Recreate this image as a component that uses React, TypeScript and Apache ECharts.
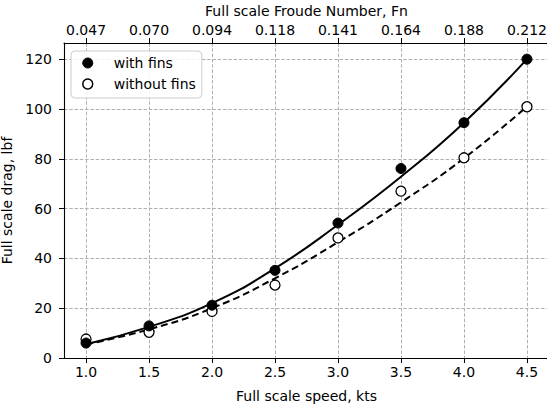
import React, { useEffect, useRef } from "react";
import * as echarts from "echarts";

const speeds = [1.0, 1.5, 2.0, 2.5, 3.0, 3.5, 4.0, 4.5];
const speedTickLabels = ["1.0", "1.5", "2.0", "2.5", "3.0", "3.5", "4.0", "4.5"];
const froudeLabels = ["0.047", "0.070", "0.094", "0.118", "0.141", "0.164", "0.188", "0.212"];
const dragWithFins = [6.0, 12.9, 21.2, 35.2, 54.2, 76.1, 94.5, 120];
const dragWithoutFins = [7.6, 10.3, 18.7, 29.3, 48.2, 67, 80.4, 100.9];
const fitWithFins = [5.5, 12.5, 22, 36, 53.5, 72.8, 94.5, 120];
const fitWithoutFins = [5.5, 11.5, 20, 32, 46.5, 62.5, 80.2, 101];
const dragTicks = [0, 20, 40, 60, 80, 100, 120];

const FONT = "DejaVu Sans";
const FS = 14;

export default function App() {
  const ref = useRef<HTMLDivElement>(null);
  useEffect(() => {
    if (!ref.current) return;
    const chart = echarts.init(ref.current, null, { renderer: "svg" });
    const pairs = (ys: number[]) => speeds.map((x, i) => [x, ys[i]]);
    const gridLine = { show: true, lineStyle: { color: "#b0b0b0", width: 1, type: [3.5, 1.8] } };
    const axisLineStyle = { show: true, lineStyle: { color: "#000", width: 1.1 } };
    const tick = { show: true, inside: false, length: 5, lineStyle: { color: "#000", width: 1 }, customValues: speeds };
    chart.setOption({
      animation: false,
      backgroundColor: "#fff",
      textStyle: { fontFamily: FONT },
      grid: { left: 64, right: -2, top: 43, bottom: 46, containLabel: false, outerBoundsMode: "none" },
      legend: {
        orient: "vertical",
        left: 71,
        top: 51,
        padding: [4, 6, 6, 11],
        itemGap: 5,
        itemWidth: 20,
        itemHeight: 10,
        backgroundColor: "rgba(255,255,255,0.85)",
        borderColor: "#cccccc",
        borderWidth: 1,
        borderRadius: 4,
        textStyle: { fontFamily: FONT, fontSize: FS, color: "#000", lineHeight: 16, padding: [0, 0, 0, 11] },
        data: [
          { name: "with fins", icon: "circle", itemStyle: { color: "#000", borderColor: "#000", borderWidth: 1, opacity: 1 } },
          { name: "without fins", icon: "circle", itemStyle: { color: "#fff", borderColor: "#000", borderWidth: 1.5, opacity: 1 } },
        ],
      },
      xAxis: [
        {
          type: "value",
          position: "bottom",
          min: 0.825,
          max: 4.675,
          name: "Full scale speed, kts",
          nameLocation: "middle",
          nameGap: 31,
          nameTextStyle: { fontFamily: FONT, fontSize: FS, color: "#000" },
          axisLine: axisLineStyle,
          axisTick: tick,
          axisLabel: {
            customValues: speeds,
            fontFamily: FONT,
            fontSize: FS,
            color: "#000",
            margin: 7,
            formatter: (v: number) => speedTickLabels[speeds.indexOf(v)] ?? "",
          },
          splitLine: gridLine,
        },
        {
          type: "value",
          position: "top",
          min: 0.825,
          max: 4.675,
          name: "Full scale Froude Number, Fn",
          nameLocation: "middle",
          nameGap: 23,
          nameTextStyle: { fontFamily: FONT, fontSize: FS, color: "#000" },
          axisLine: axisLineStyle,
          axisTick: tick,
          axisLabel: {
            customValues: speeds,
            fontFamily: FONT,
            fontSize: FS,
            color: "#000",
            margin: 6,
            formatter: (v: number) => froudeLabels[speeds.indexOf(v)] ?? "",
          },
          splitLine: { show: false },
        },
      ],
      yAxis: [
        {
          type: "value",
          min: 0,
          max: 126.5,
          name: "Full scale drag, lbf",
          nameLocation: "middle",
          nameGap: 32,
          nameTextStyle: { fontFamily: FONT, fontSize: FS, color: "#000" },
          axisLine: axisLineStyle,
          axisTick: { show: true, inside: false, length: 5, lineStyle: { color: "#000", width: 1 }, customValues: dragTicks },
          axisLabel: {
            customValues: dragTicks,
            fontFamily: FONT,
            fontSize: FS,
            color: "#000",
            margin: 12,
          },
          splitLine: gridLine,
        },
      ],
      series: [
        {
          name: "fit with fins",
          type: "line",
          data: pairs(fitWithFins),
          smooth: true,
          showSymbol: false,
          symbol: "none",
          lineStyle: { color: "#000", width: 2, type: "solid" },
          z: 2,
          silent: true,
        },
        {
          name: "fit without fins",
          type: "line",
          data: pairs(fitWithoutFins),
          smooth: true,
          showSymbol: false,
          symbol: "none",
          lineStyle: { color: "#000", width: 2, type: [7, 4] },
          z: 2,
          silent: true,
        },
        {
          name: "without fins",
          type: "scatter",
          data: pairs(dragWithoutFins),
          symbol: "circle",
          symbolSize: 10,
          itemStyle: { color: "#fff", borderColor: "#000", borderWidth: 1.3, opacity: 1 },
          z: 3,
        },
        {
          name: "with fins",
          type: "scatter",
          data: pairs(dragWithFins),
          symbol: "circle",
          symbolSize: 10,
          itemStyle: { color: "#000", borderColor: "#000", borderWidth: 1, opacity: 1 },
          z: 4,
        },
      ],
    });
    return () => chart.dispose();
  }, []);
  return (
    <div
      ref={ref}
      style={{ position: "fixed", left: 0, top: 0, width: 547, height: 404, background: "#fff" }}
    />
  );
}
